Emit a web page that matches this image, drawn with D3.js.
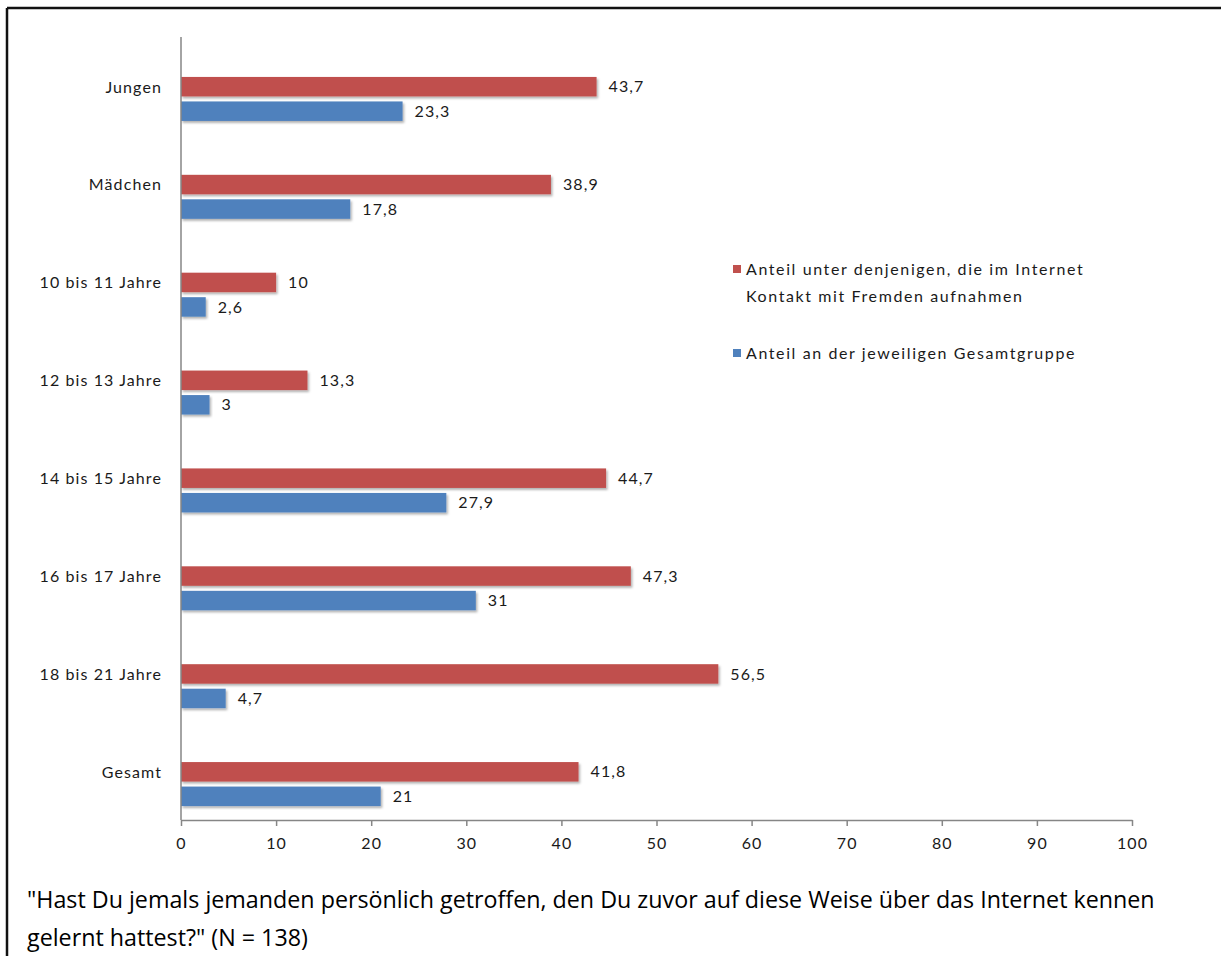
<!DOCTYPE html>
<html>
<head>
<meta charset="utf-8">
<script src="https://cdn.jsdelivr.net/npm/d3@7"></script>
<style>
  html, body { margin: 0; padding: 0; background: #fff; }
  svg { display: block; font-family: Lato, "Open Sans", sans-serif; }
</style>
</head>
<body>
<svg id="chart" width="1221" height="956"></svg>
<script>
// Categories (top to bottom)
const categories = ["Jungen", "Mädchen", "10 bis 11 Jahre", "12 bis 13 Jahre",
  "14 bis 15 Jahre", "16 bis 17 Jahre", "18 bis 21 Jahre", "Gesamt"];

// Share among those who contacted strangers online (red)
const contactShare = [43.7, 38.9, 10, 13.3, 44.7, 47.3, 56.5, 41.8];
// Share of the respective whole group (blue)
const groupShare = [23.3, 17.8, 2.6, 3, 27.9, 31, 4.7, 21];

const seriesNames = [
  ["Anteil unter denjenigen, die im Internet", "Kontakt mit Fremden aufnahmen"],
  ["Anteil an der jeweiligen Gesamtgruppe"]
];
const xTicks = [0, 10, 20, 30, 40, 50, 60, 70, 80, 90, 100];
const questionLines = [
  "\"Hast Du jemals jemanden persönlich getroffen, den Du zuvor auf diese Weise über das Internet kennen",
  "gelernt hattest?\" (N = 138)"
];

const RED = "#C0504D", BLUE = "#4F81BD", AXIS = "#868686", TEXT = "#1a1a1a";
const FS = 16, LS = 1.1;
const fmt = v => String(v).replace(".", ",");

const svg = d3.select("#chart");

// drop shadow used by the bars
const defs = svg.append("defs");
const f = defs.append("filter").attr("id", "shadow")
  .attr("x", "-5%").attr("y", "-30%").attr("width", "115%").attr("height", "180%");
f.append("feDropShadow").attr("dx", 1.5).attr("dy", 2).attr("stdDeviation", 1.3)
  .attr("flood-color", "#000").attr("flood-opacity", 0.3);

// outer frame (top and left edges)
svg.append("line").attr("x1", 7).attr("x2", 1221).attr("y1", 8).attr("y2", 8)
  .attr("stroke", "#111").attr("stroke-width", 2.5);
svg.append("line").attr("x1", 7).attr("x2", 7).attr("y1", 8).attr("y2", 956)
  .attr("stroke", "#111").attr("stroke-width", 2.5);

const x = d3.scaleLinear().domain([0, 100]).range([181, 1132]);
const y = d3.scaleBand().domain(categories).range([37, 820]);
const barH = 19.5;
const redOff = -9, blueOff = 15.5;   // offsets from band centre

const g = svg.append("g");

// bars
const groups = g.selectAll("g.cat").data(categories).join("g").attr("class", "cat");
groups.append("rect")
  .attr("x", x(0))
  .attr("y", (d, i) => y(d) + y.bandwidth() / 2 + redOff)
  .attr("width", (d, i) => x(contactShare[i]) - x(0))
  .attr("height", barH)
  .attr("fill", RED).attr("filter", "url(#shadow)");
groups.append("rect")
  .attr("x", x(0))
  .attr("y", (d, i) => y(d) + y.bandwidth() / 2 + blueOff)
  .attr("width", (d, i) => x(groupShare[i]) - x(0))
  .attr("height", barH)
  .attr("fill", BLUE).attr("filter", "url(#shadow)");

// value labels
groups.append("text")
  .attr("x", (d, i) => x(contactShare[i]) + 12)
  .attr("y", (d, i) => y(d) + y.bandwidth() / 2 + redOff + barH / 2)
  .attr("dy", "0.35em").attr("font-size", FS).attr("letter-spacing", LS).attr("fill", TEXT)
  .text((d, i) => fmt(contactShare[i]));
groups.append("text")
  .attr("x", (d, i) => x(groupShare[i]) + 12)
  .attr("y", (d, i) => y(d) + y.bandwidth() / 2 + blueOff + barH / 2)
  .attr("dy", "0.35em").attr("font-size", FS).attr("letter-spacing", LS).attr("fill", TEXT)
  .text((d, i) => fmt(groupShare[i]));

// category labels
groups.append("text")
  .attr("x", 162)
  .attr("y", d => y(d) + y.bandwidth() / 2 + 1)
  .attr("dy", "0.35em").attr("text-anchor", "end")
  .attr("font-size", FS).attr("letter-spacing", LS).attr("fill", TEXT)
  .text(d => d);

// vertical category axis line
svg.append("line").attr("x1", x(0)).attr("x2", x(0)).attr("y1", 37).attr("y2", 820)
  .attr("stroke", AXIS).attr("stroke-width", 1.5);

// value axis
const xAxis = svg.append("g").attr("transform", "translate(0,820)")
  .call(d3.axisBottom(x).tickValues(xTicks).tickSize(6).tickSizeOuter(0).tickPadding(12));
xAxis.select(".domain").attr("stroke", AXIS).attr("stroke-width", 1.5);
xAxis.selectAll(".tick line").attr("stroke", AXIS).attr("stroke-width", 1.5);
xAxis.selectAll(".tick text").attr("font-size", FS).attr("letter-spacing", LS).attr("fill", TEXT)
  .attr("font-family", "Lato, 'Open Sans', sans-serif");

// legend
const legend = svg.append("g");
const legY = [269, 353];
[RED, BLUE].forEach((c, i) => {
  legend.append("rect").attr("x", 733).attr("y", legY[i] - 4).attr("width", 8).attr("height", 8).attr("fill", c);
  seriesNames[i].forEach((line, j) => {
    legend.append("text").attr("x", 746).attr("y", legY[i] + j * 27)
      .attr("dy", "0.35em").attr("font-size", FS).attr("letter-spacing", 1.6)
      .attr("fill", TEXT).text(line);
  });
});

// question text below the chart
const q = svg.append("g");
const qLines = q.selectAll("text").data(questionLines).join("text")
  .attr("x", 27).attr("y", (d, i) => 900 + i * 38)
  .attr("dy", "0.35em").attr("font-size", 21).attr("fill", "#000")
  .attr("font-family", "'Open Sans', Lato, sans-serif")
  .text(d => d);
// fit the first line to its intended width
const w0 = qLines.nodes()[0].getComputedTextLength();
const qSize = 21 * 1128 / w0;
qLines.attr("font-size", qSize);
</script>
</body>
</html>
